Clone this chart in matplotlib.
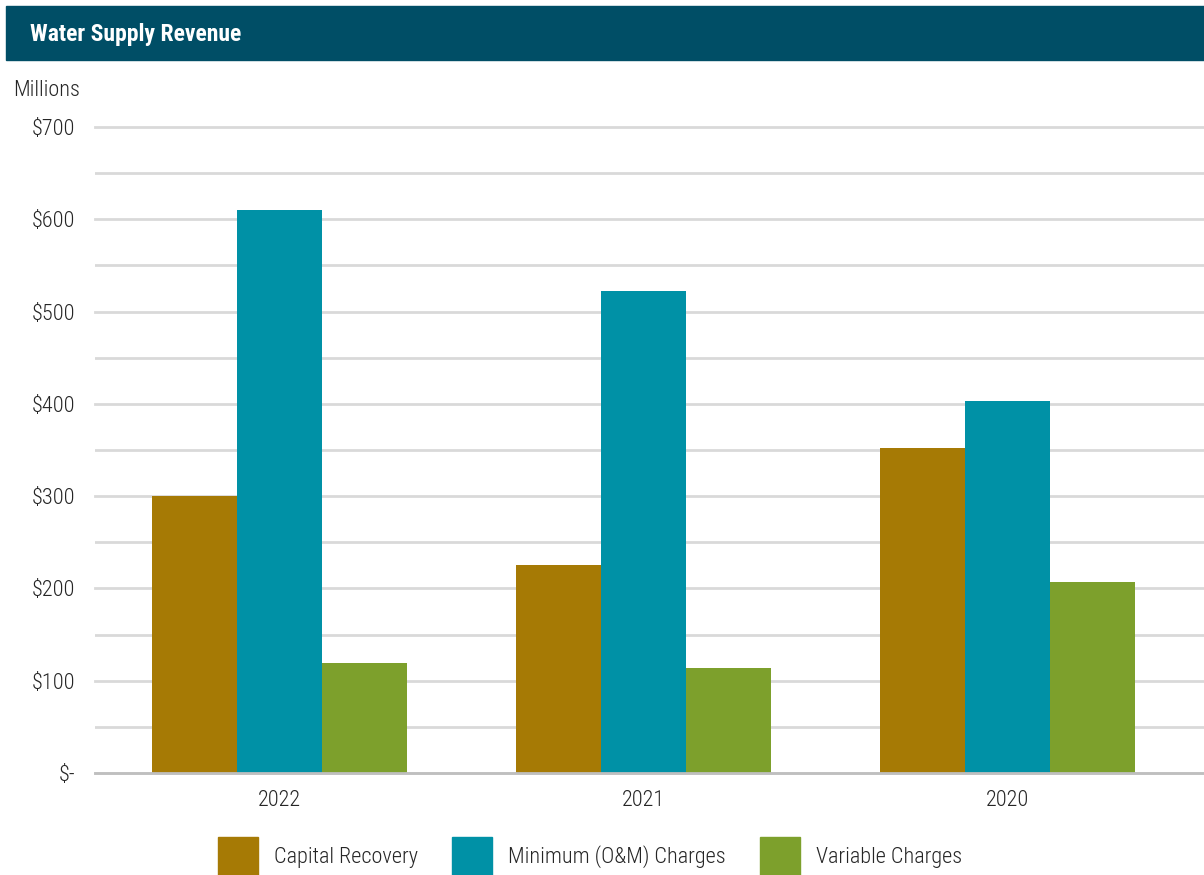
import matplotlib
matplotlib.use("Agg")
from matplotlib import pyplot as plt
from matplotlib.patches import Rectangle
from matplotlib.ticker import FuncFormatter
import numpy as np

plt.rcParams['font.family'] = ['Roboto Condensed', 'Roboto', 'DejaVu Sans']
plt.rcParams['font.weight'] = 'light'

years = ["2022", "2021", "2020"]
capital_recovery = [300, 225, 352]
minimum_charges = [610, 522, 403]
variable_charges = [119, 114, 207]
series_names = ["Capital Recovery", "Minimum (O&M) Charges", "Variable Charges"]
colors = ["#A67A05", "#0091A6", "#7DA02C"]
text_color = "#262626"

W, H = 1204, 875
fig = plt.figure(figsize=(W/100, H/100), dpi=100)

# header band
fig.patches.append(Rectangle((6/W, 1-60/H), 1-6/W, 54/H,
                             transform=fig.transFigure, color="#004E66", zorder=0))
fig.text(30/W, 1-35/H, "Water Supply Revenue", color="white",
         fontsize=17, fontweight="bold", va="center", ha="left")
fig.text(13/W, 1-91/H, "Millions", fontsize=16, va="center", ha="left", color=text_color)

ax = fig.add_axes([95/W, 1-773/H, 1-95/W, 646/H])
x = np.arange(len(years))
w = 0.2335
for i, vals in enumerate([capital_recovery, minimum_charges, variable_charges]):
    ax.bar(x + (i-1)*w, vals, width=w, color=colors[i], label=series_names[i], zorder=3)

ax.set_ylim(0, 700)
ax.set_xlim(-0.5055, 2.541)
ax.set_yticks(np.arange(0, 701, 100))
ax.set_yticks(np.arange(50, 701, 100), minor=True)
ax.yaxis.set_major_formatter(FuncFormatter(lambda v, p: "$-" if v == 0 else f"${int(v)}"))
ax.grid(axis='y', which='both', color="#d9d9d9", linewidth=2, zorder=0)
for s in ["top", "right", "left"]:
    ax.spines[s].set_visible(False)
ax.spines["bottom"].set_color("#bfbfbf")
ax.spines["bottom"].set_linewidth(2)
ax.spines["bottom"].set_zorder(4)
ax.set_xticks(x)
ax.set_xticklabels(years)
ax.tick_params(axis='both', which='both', length=0, labelsize=16, labelcolor=text_color)
ax.tick_params(axis='y', pad=14)
ax.tick_params(axis='x', pad=12)
for line in ax.get_ygridlines():
    line.set_clip_on(False)

# legend: swatch + label, laid out along the bottom
swatch_x = [218, 452, 760]
for sx, c, name in zip(swatch_x, colors, series_names):
    fig.patches.append(Rectangle((sx/W, 0), 40/W, 38/H, transform=fig.transFigure,
                                 color=c))
    fig.text((sx+56)/W, 1-857/H, name, fontsize=16, va="center", ha="left",
             color=text_color)

fig.savefig("out.png", dpi=100)
